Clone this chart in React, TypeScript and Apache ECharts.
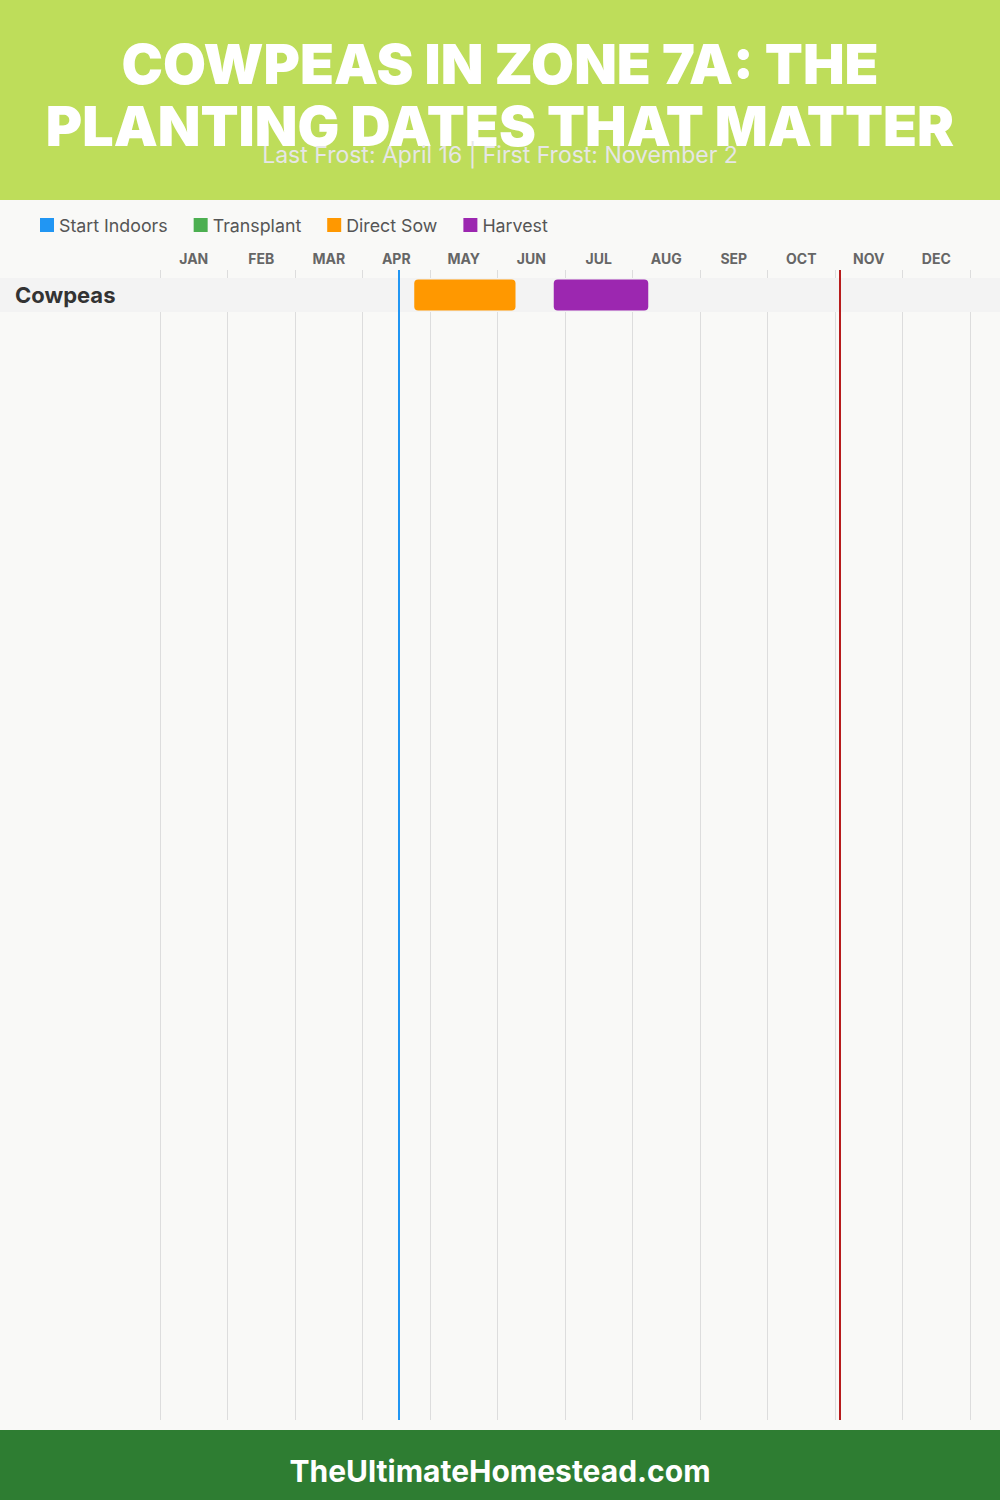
import React, { useEffect, useRef } from "react";
import * as echarts from "echarts";

const MONTHS = ["JAN", "FEB", "MAR", "APR", "MAY", "JUN", "JUL", "AUG", "SEP", "OCT", "NOV", "DEC"];
const CROPS = ["Cowpeas"];
// [cropIndex, [startMonth, startDay], [endMonth, endDay]]
const START_INDOORS: [number, [number, number], [number, number]][] = [];
const TRANSPLANT: [number, [number, number], [number, number]][] = [];
const DIRECT_SOW: [number, [number, number], [number, number]][] = [[0, [4, 23], [6, 8]]];
const HARVEST: [number, [number, number], [number, number]][] = [[0, [6, 25], [8, 7]]];
const LAST_FROST: [number, number] = [4, 16];
const FIRST_FROST: [number, number] = [11, 2];
const TITLE = "COWPEAS IN ZONE 7A: THE\nPLANTING DATES THAT MATTER";
const SUBTITLE = "Last Frost: April 16 | First Frost: November 2";
const FOOTER = "TheUltimateHomestead.com";
const ROW_SLOTS = 23;

const toMonth = (md: [number, number]) => md[0] - 1 + md[1] / 30;
const toData = (arr: [number, [number, number], [number, number]][]) =>
  arr.map(([c, a, b]) => [c, toMonth(a), toMonth(b)]);

const FONT = "Inter";

export default function App() {
  const ref = useRef<HTMLDivElement>(null);
  useEffect(() => {
    document.body.style.margin = "0";
    const chart = echarts.init(ref.current!, null, { renderer: "svg" });
    const rows = [...CROPS];
    while (rows.length < ROW_SLOTS) rows.push("");

    const barRender = (color: string) => (params: any, api: any) => {
      const r = api.value(0);
      const s = api.coord([api.value(1), r]);
      const e = api.coord([api.value(2), r]);
      const h = api.size([0, 1])[1] * 0.62;
      return {
        type: "rect",
        shape: { x: s[0], y: s[1] - h / 2, width: e[0] - s[0], height: h, r: 4 },
        style: { fill: color },
      };
    };
    const mkSeries = (name: string, color: string, data: any[]) => ({
      name,
      type: "custom",
      xAxisIndex: 1,
      yAxisIndex: 0,
      z: 3,
      itemStyle: { color },
      renderItem: barRender(color),
      encode: { x: [1, 2], y: 0 },
      data,
    });

    const option: any = {
      animation: false,
      backgroundColor: "#f9f9f7",
      textStyle: { fontFamily: FONT },
      graphic: [
        { type: "rect", z: -10, shape: { x: 0, y: 0, width: 1000, height: 200 }, style: { fill: "#bedd5a" } },
        { type: "rect", z: -10, shape: { x: 0, y: 1430, width: 1000, height: 70 }, style: { fill: "#2e7d32" } },
        {
          type: "text",
          left: "center",
          top: 1456,
          style: { text: FOOTER, fill: "#ffffff", font: `bold 30px ${FONT}` },
        },
      ],
      title: [
        {
          text: TITLE,
          left: "center",
          top: 27,
          textStyle: { color: "#ffffff", fontSize: 55.5, fontWeight: 900, lineHeight: 62, fontFamily: FONT },
        },
        {
          text: SUBTITLE,
          left: "center",
          top: 138,
          textStyle: { color: "#e6e6e6", fontSize: 23, fontWeight: "normal", fontFamily: FONT },
        },
      ],
      legend: {
        left: 40,
        top: 216,
        padding: 0,
        icon: "rect",
        itemWidth: 14,
        itemHeight: 14,
        itemGap: 26,
        textStyle: { color: "#555555", fontSize: 17.8, fontFamily: FONT },
        data: ["Start Indoors", "Transplant", "Direct Sow", "Harvest"],
      },
      grid: { left: 160, right: 30, top: 270, bottom: 80 },
      xAxis: [
        {
          type: "category",
          position: "top",
          data: MONTHS,
          boundaryGap: true,
          axisLine: { show: false },
          axisTick: { show: false },
          axisLabel: { color: "#666666", fontWeight: "bold", fontSize: 14, margin: 5, fontFamily: FONT },
          splitLine: { show: true, lineStyle: { color: "#dddddd", width: 1 } },
        },
        { type: "value", min: 0, max: 12, show: false },
      ],
      yAxis: {
        type: "category",
        inverse: true,
        data: rows,
        z: 10,
        axisLine: { show: false },
        axisTick: { show: false },
        splitLine: { show: false },
        axisLabel: { align: "left", margin: 145, color: "#333333", fontSize: 22, fontWeight: "bold", fontFamily: FONT, padding: [7, 0, 0, 0] },
      },
      series: [
        {
          name: "band",
          type: "custom",
          xAxisIndex: 1,
          yAxisIndex: 0,
          z: 2,
          clip: false,
          silent: true,
          renderItem: (params: any, api: any) => {
            const c = api.coord([0, api.value(0)]);
            const h = api.size([0, 1])[1] * 0.68;
            return {
              type: "rect",
              shape: { x: 0, y: c[1] - h / 2, width: api.getWidth(), height: h },
              style: { fill: "#f3f3f3" },
            };
          },
          encode: { y: 0 },
          data: CROPS.map((_, i) => [i]),
        },
        mkSeries("Start Indoors", "#2196f3", toData(START_INDOORS)),
        mkSeries("Transplant", "#4caf50", toData(TRANSPLANT)),
        mkSeries("Direct Sow", "#ff9800", toData(DIRECT_SOW)),
        mkSeries("Harvest", "#9c27b0", toData(HARVEST)),
        {
          name: "frost",
          type: "line",
          xAxisIndex: 1,
          yAxisIndex: 0,
          z: 4,
          data: [],
          markLine: {
            silent: true,
            symbol: ["none", "none"],
            label: { show: false },
            data: [
              { xAxis: toMonth(LAST_FROST), lineStyle: { color: "#2196f3", width: 2, type: "solid" } },
              { xAxis: toMonth(FIRST_FROST), lineStyle: { color: "#b71c1c", width: 2, type: "solid" } },
            ],
          },
        },
      ],
    };
    chart.setOption(option);
    return () => chart.dispose();
  }, []);
  return <div ref={ref} style={{ width: 1000, height: 1500 }} />;
}
